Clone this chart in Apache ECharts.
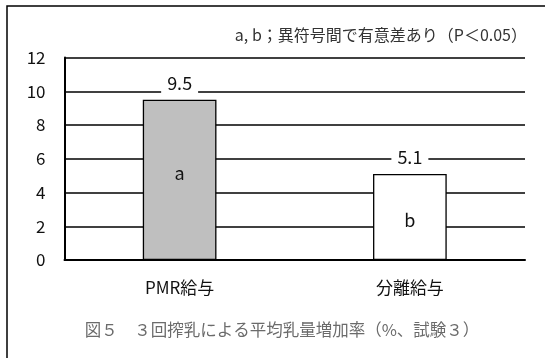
<!DOCTYPE html>
<html>
<head>
<meta charset="utf-8">
<script src="https://cdn.jsdelivr.net/npm/echarts@6/dist/echarts.min.js"></script>
<style>
  html, body { margin: 0; padding: 0; background: #fff; }
  #chart { width: 545px; height: 358px; }
</style>
</head>
<body>
<div id="chart"></div>
<script>
// 3回搾乳による平均乳量増加率（%）
const categories = ['PMR給与', '分離給与'];
const values = [9.5, 5.1];
const groupLetters = ['a', 'b'];
const barColors = ['#bfbfbf', '#ffffff'];
const yTicks = [0, 2, 4, 6, 8, 10, 12];

const captionText = '図５　３回搾乳による平均乳量増加率（%、試験３）';
const noteText = 'a, b；異符号間で有意差あり（P＜0.05）';

const FONT = '"Noto Sans CJK JP", "Noto Sans", sans-serif';

const chart = echarts.init(document.getElementById('chart'));

const option = {
  animation: false,
  backgroundColor: '#ffffff',
  grid: { left: 64.5, right: 20, top: 57.5, bottom: 98, containLabel: false },
  xAxis: {
    type: 'category',
    data: categories,
    axisLine: { show: true, lineStyle: { color: '#000', width: 2 } },
    axisTick: { show: false },
    axisLabel: { color: '#111', fontSize: 17, fontFamily: FONT, margin: 19 },
    splitLine: { show: false }
  },
  yAxis: {
    type: 'value',
    min: yTicks[0],
    max: yTicks[yTicks.length - 1],
    interval: 2,
    axisLine: { show: true, lineStyle: { color: '#000', width: 2 } },
    axisTick: { show: false },
    axisLabel: { color: '#111', fontSize: 17, fontFamily: FONT, margin: 19 },
    splitLine: { show: true, lineStyle: { color: '#000', width: 1.5 } }
  },
  series: [
    {
      // bar values with their value labels above
      type: 'bar',
      barWidth: '32%',
      data: values.map((v, i) => ({
        value: v,
        itemStyle: { color: barColors[i], borderColor: '#000', borderWidth: 1.3 }
      })),
      label: {
        show: true,
        position: 'top',
        distance: 5,
        formatter: p => p.value.toFixed(1),
        color: '#111',
        fontSize: 18,
        fontFamily: FONT,
        backgroundColor: '#fff',
        padding: [2, 6, 3, 6]
      },
      z: 3
    },
    {
      // group letters inside the bars (same bars, overlaid)
      type: 'bar',
      barWidth: '32%',
      barGap: '-100%',
      data: values.map((v, i) => ({
        value: v,
        label: { offset: [0, i === 0 ? -7 : 3] }
      })),
      itemStyle: { color: 'transparent' },
      label: {
        show: true,
        position: 'inside',
        formatter: p => groupLetters[p.dataIndex],
        color: '#111',
        fontSize: 18,
        fontFamily: FONT
      },
      silent: true,
      z: 4
    }
  ],
  graphic: [
    {
      type: 'rect',
      shape: { x: 7, y: 6, width: 600, height: 400 },
      style: { fill: 'none', stroke: '#000', lineWidth: 1.5 },
      silent: true,
      z: -1
    },
    {
      type: 'text',
      x: 527, y: 35,
      style: {
        text: noteText,
        align: 'right', verticalAlign: 'middle',
        fill: '#333', fontSize: 16, fontFamily: FONT
      }
    },
    {
      type: 'text',
      x: 282, y: 330,
      style: {
        text: captionText,
        align: 'center', verticalAlign: 'middle',
        fill: '#6b6b6b', fontSize: 16.5, fontFamily: FONT
      }
    }
  ]
};

chart.setOption(option);
</script>
</body>
</html>
